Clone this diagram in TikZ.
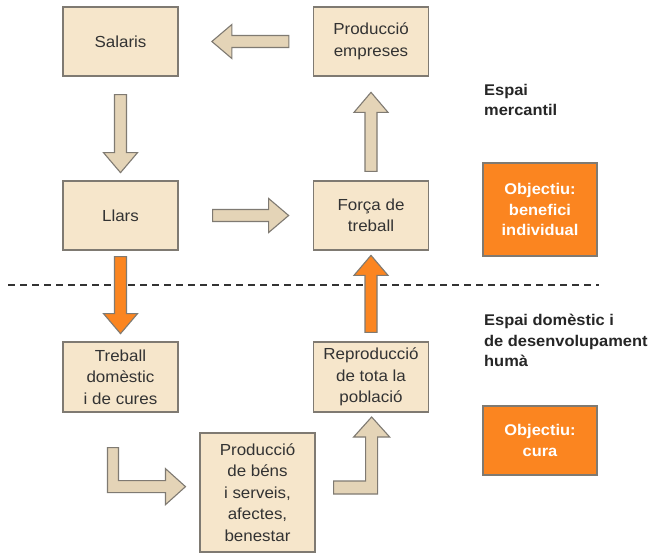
\documentclass[tikz,border=0pt]{standalone}
\usepackage{fontspec}
\setmainfont{Liberation Sans}[FakeStretch=1.06]
\usetikzlibrary{calc}
\definecolor{boxfill}{HTML}{F6E6CB}
\definecolor{arrfill}{HTML}{E4D4B7}
\definecolor{edge}{HTML}{7F7A72}
\definecolor{orng}{HTML}{FB8520}
\definecolor{txt}{HTML}{333333}
\newcommand\BArrow[4]{% style, start, angle, length
  \draw[#1, shift={(#2)}, rotate=#3] (0,-6) -- ({#4-20},-6) -- ({#4-20},-17) -- (#4,0) -- ({#4-20},17) -- ({#4-20},6) -- (0,6) -- cycle;}
\begin{document}
\begin{tikzpicture}[x=1pt,y=-1pt,
  every node/.style={font=\fontsize{16}{21.5}\selectfont},
  beigebox/.style={draw=edge, line width=1.3pt, fill=boxfill, text=txt, align=center, inner sep=0pt, minimum width=115pt},
  goalbox/.style={draw=edge, line width=1.3pt, fill=orng, text=white, align=center, inner sep=0pt, minimum width=114pt, font=\fontsize{15.5}{20.5}\selectfont\bfseries},
  zonelabel/.style={align=left, anchor=north west, inner sep=0pt, text=black!85, font=\fontsize{15.5}{20.5}\selectfont\bfseries},
  beigearrow/.style={draw=edge, line width=1.1pt, fill=arrfill, line join=miter},
  orangearrow/.style={draw=edge, line width=1.1pt, fill=orng, line join=miter}]
\useasboundingbox (0,0) rectangle (660,553);
\fill[white] (0,0) rectangle (660,553);
% boxes
\node[beigebox, minimum height=69pt] (sal) at (120.5,41.5) {Salaris};
\node[beigebox, minimum height=69pt] (pemp) at (371,41.5) {Producció\\empreses};
\node[beigebox, minimum height=69pt] (llars) at (120.5,215.5) {Llars};
\node[beigebox, minimum height=69pt] (forca) at (371,215.5) {Força de\\treball};
\node[beigebox, minimum height=70pt] (treb) at (120.5,377) {Treball\\domèstic\\i de cures};
\node[beigebox, minimum height=70pt] (repr) at (371,377) {Reproducció\\de tota la\\població};
\node[beigebox, minimum height=119pt] (pbens) at (257.5,492.5) {Producció\\de béns\\i serveis,\\afectes,\\benestar};
\node[goalbox, minimum height=93pt] (obj1) at (540,209.5) {Objectiu:\\benefici\\individual};
\node[goalbox, minimum height=69pt] (obj2) at (540,440.5) {Objectiu:\\cura};
% zone labels
\node[zonelabel] (lab1) at (484,84) {Espai\\mercantil};
\node[zonelabel] (lab2) at (484,314) {Espai domèstic i\\de desenvolupament\\humà};
% separator
\coordinate (sepL) at (8,285);
\coordinate (sepR) at (599,285);
\draw[dashed, dash pattern=on 7pt off 5pt, line width=1.1pt, black!80] (sepL) -- (sepR);
% straight block arrows
\BArrow{beigearrow}{$(pemp.west)+(-24,0)$}{180}{77}
\BArrow{beigearrow}{$(sal.south)+(0,18)$}{-90}{78}
\BArrow{beigearrow}{$(llars.east)+(34,0)$}{0}{76}
\BArrow{beigearrow}{$(forca.north)+(0,-9)$}{90}{79}
\BArrow{orangearrow}{$(llars.south)+(0,6)$}{-90}{77}
\BArrow{orangearrow}{$(repr.north)+(0,-9)$}{90}{77}
% L-shaped arrows
\coordinate (la) at ($(treb.south)+(-13,35)$);
\draw[beigearrow, shift={(la)}] (0,0) -- (11,0) -- (11,33) -- (58,33) -- (58,21) -- (78,39) -- (58,57) -- (58,45) -- (0,45) -- cycle;
\coordinate (lb) at ($(pbens.east)+(18,-11.5)$);
\draw[beigearrow, shift={(lb)}] (0,0) -- (32,0) -- (32,-44) -- (20,-44) -- (38,-64) -- (56,-44) -- (44,-44) -- (44,13) -- (0,13) -- cycle;
\end{tikzpicture}
\end{document}
